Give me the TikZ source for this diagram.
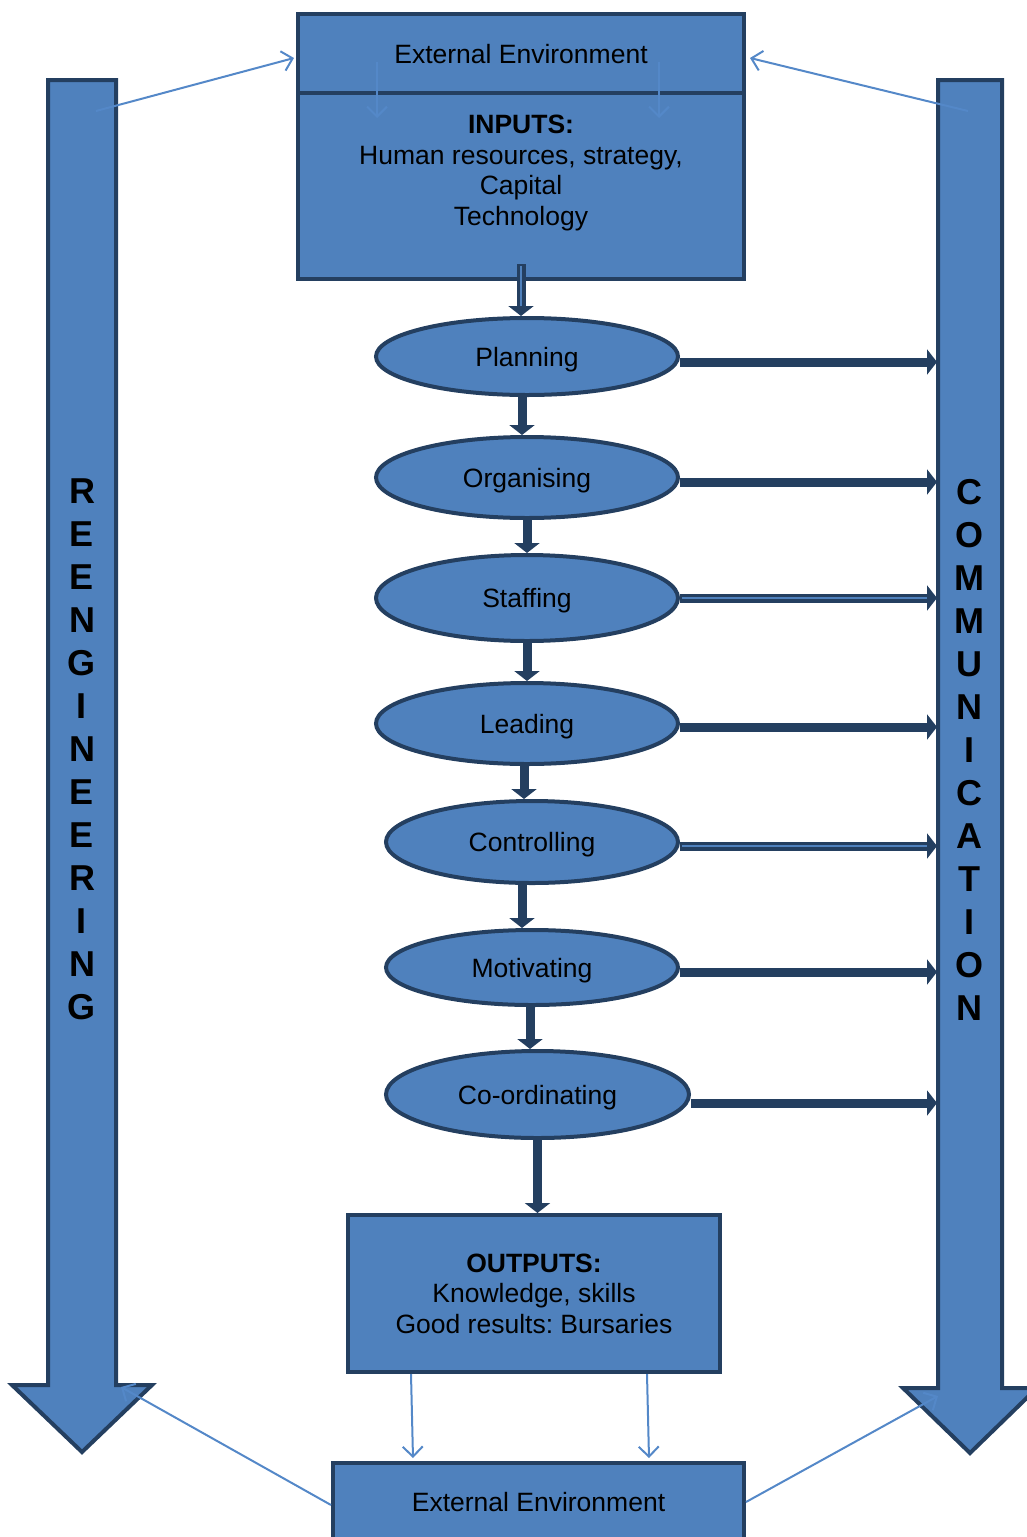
\documentclass[tikz,border=0pt]{standalone}
\usepackage{fontspec}
\setmainfont{Liberation Sans}
\usetikzlibrary{positioning, arrows.meta, shapes}
\definecolor{OfficeBlue}{RGB}{79, 129, 189}
\definecolor{DarkBlue}{RGB}{36, 63, 96}
\definecolor{LineBlue}{RGB}{84, 136, 200}
\frenchspacing

\begin{document}
\begin{tikzpicture}[x=0.5pt, y=-0.5pt, font=\fontsize{13.25}{15.3}\selectfont]
  \tikzstyle{box} = [rectangle, draw=DarkBlue, fill=OfficeBlue, line width=2pt, align=center, inner sep=0pt]
  \tikzstyle{stage} = [ellipse, draw=DarkBlue, fill=OfficeBlue, line width=2pt, inner sep=0pt, text depth=0pt]
  \tikzstyle{bigarrow} = [draw=DarkBlue, fill=OfficeBlue, line width=2pt, line join=miter]
  \tikzstyle{letter} = [inner sep=0pt, font=\fontsize{18}{21.5}\selectfont\bfseries]
  \tikzstyle{conn} = [draw=DarkBlue, line width=4.5pt, -{Triangle[width=12.5pt, length=5pt]}]
  \tikzstyle{dbl} = [conn, postaction={draw=OfficeBlue, line width=0.6pt, -, shorten >=5pt, shorten <=1pt}]
  \tikzstyle{thin} = [draw=LineBlue, line width=1pt, -{Straight Barb[width=10pt, length=5pt]}]

  \useasboundingbox (0,0) rectangle (1027,1537);

  % Flechas grandes
  \draw[bigarrow] (48,80) -- (116,80) -- (116,1385) -- (152,1385) -- (82,1452) -- (12,1385) -- (48,1385) -- cycle;
  \draw[bigarrow] (938,80) -- (1002,80) -- (1002,1388) -- (1037,1388) -- (970,1453) -- (903,1388) -- (938,1388) -- cycle;
  \coordinate (reTop) at (96,111);
  \coordinate (commTop) at (968,111);
  \coordinate (reHead) at (121,1387);
  \coordinate (commHead) at (938,1396);
  \coordinate (commL) at (937,0);

  \foreach \letter [count=\i] in {R,E,E,N,G,I,N,E,E,R,I,N,G}
    \node[letter] (re\i) at (82, 448+43*\i) {\letter};
  \foreach \letter [count=\i] in {C,O,M,M,U,N,I,C,A,T,I,O,N}
    \node[letter] (comm\i) at (969, 449+43*\i) {\letter};

  % Entradas
  \node[box, minimum width=223pt, minimum height=40pt] (extTop) at (521,54) {External Environment};
  \node[box, minimum width=223pt, minimum height=93pt] (inputs) at (521,186) {};
  \node[align=center] (inputsText) at (521,173) {\textbf{INPUTS:}\\Human resources, strategy,\\Capital\\Technology};

  % Funciones
  \node[stage, minimum width=151pt, minimum height=38.5pt] (plan) at (527,356.5) {Planning};
  \node[stage, minimum width=151pt, minimum height=40.5pt] (org) at (527,477.5) {Organising};
  \node[stage, minimum width=151pt, minimum height=43pt] (staff) at (527,598) {Staffing};
  \node[stage, minimum width=151pt, minimum height=40.5pt] (lead) at (527,723.5) {Leading};
  \node[stage, minimum width=146pt, minimum height=41pt] (ctrl) at (532,842) {Controlling};
  \node[stage, minimum width=146pt, minimum height=37.5pt] (motiv) at (532,967.5) {Motivating};
  \node[stage, minimum width=151.5pt, minimum height=43.5pt] (coord) at (537.5,1094.5) {Co-ordinating};

  % Salidas
  \node[box, minimum width=186pt, minimum height=78.5pt] (outputs) at (534,1293.5) {\textbf{OUTPUTS:}\\Knowledge, skills\\Good results: Bursaries};
  \node[box, minimum width=205.5pt, minimum height=39pt] (extBot) at (538.5,1502) {External Environment};

  % Flechas verticales
  \draw[dbl] ([yshift=8.5pt]inputs.south) -- (inputs.south |- plan.north);
  \draw[conn] ([xshift=-2.5pt]plan.south) -- ([xshift=-2.5pt]org.north);
  \draw[conn] (org.south) -- (staff.north);
  \draw[conn] (staff.south) -- (lead.north);
  \draw[conn] ([xshift=-1.5pt]lead.south) -- ([xshift=-1.5pt]lead.south |- ctrl.north);
  \draw[conn] ([xshift=-5pt]ctrl.south) -- ([xshift=-5pt]motiv.north);
  \draw[conn] ([xshift=-1pt]motiv.south) -- ([xshift=-1pt]motiv.south |- coord.north);
  \draw[conn] (coord.south) -- (coord.south |- outputs.north);

  % Flechas hacia la comunicacion
  \foreach \st/\dy in {plan/-2.75pt, org/-2.25pt, lead/-1.75pt, motiv/-2.25pt, coord/-4.25pt}
    \draw[conn] ([yshift=\dy]\st.east) -- ([yshift=\dy]\st.east -| commL);
  \foreach \st/\dy in {staff/0pt, ctrl/-2pt}
    \draw[dbl] ([yshift=\dy]\st.east) -- ([yshift=\dy]\st.east -| commL);

  % Flechas finas
  \draw[thin] (reTop) -- ([xshift=-1pt, yshift=-2pt]extTop.west);
  \draw[thin] (commTop) -- ([xshift=2pt, yshift=-2pt]extTop.east);
  \draw[thin] ([xshift=-72pt, yshift=-4pt]extTop.center) -- ([xshift=-72pt, yshift=-13.5pt]inputs.north);
  \draw[thin] ([xshift=69pt, yshift=-4pt]extTop.center) -- ([xshift=69pt, yshift=-13.5pt]inputs.north);
  \draw[thin] ([xshift=-61.5pt]outputs.south) -- ([xshift=-62.75pt, yshift=1.5pt]extBot.north);
  \draw[thin] ([xshift=56.5pt]outputs.south) -- ([xshift=55.25pt, yshift=1.5pt]extBot.north);
  \draw[thin] ([yshift=-1.5pt]extBot.west) -- (reHead);
  \draw[thin] (extBot.east) -- (commHead);
\end{tikzpicture}
\end{document}
